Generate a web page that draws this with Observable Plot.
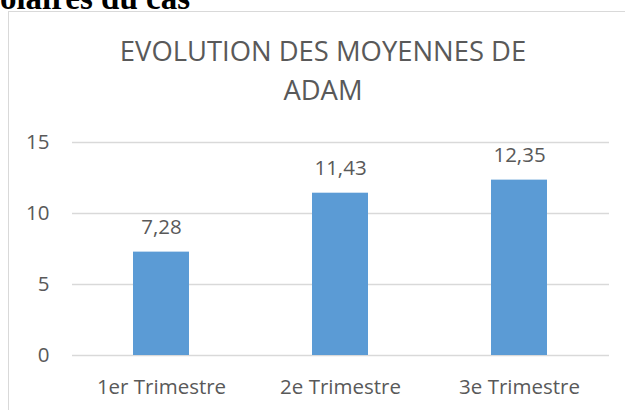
<!DOCTYPE html>
<html>
<head>
<meta charset="utf-8">
<script src="https://cdn.jsdelivr.net/npm/d3@7"></script>
<script src="https://cdn.jsdelivr.net/npm/@observablehq/plot@0.6"></script>
<style>
  html, body { margin: 0; padding: 0; background: #fff; }
  #wrap { position: relative; width: 625px; height: 410px; overflow: hidden; background: #fff; }
  #toptext { position: absolute; right: 435px; top: -18px; font: bold 33px "Liberation Serif", "Times New Roman", serif; line-height: 33px; color: #000; white-space: nowrap; }
  #frame { position: absolute; left: 8px; top: 11px; width: 700px; height: 500px; border-left: 1.5px solid #d9d9d9; border-top: 1.5px solid #d9d9d9; }
  #title { position: absolute; left: 0; width: 646px; top: 31px; text-align: center; font: 27.4px "Open Sans", sans-serif; line-height: 39px; color: #595959; }
  #chart { position: absolute; left: 0; top: 0; }
</style>
</head>
<body>
<div id="wrap">
  <div id="toptext">scolaires du cas</div>
  <div id="frame"></div>
  <div id="chart"></div>
  <div id="title">EVOLUTION DES MOYENNES DE<br>ADAM</div>
</div>
<script>
const categories = ["1er Trimestre", "2e Trimestre", "3e Trimestre"];
const moyennes = [7.28, 11.43, 12.35];
const yTicks = [0, 5, 10, 15];

const data = categories.map((c, i) => ({ cat: c, value: moyennes[i] }));
const fmt = v => v.toFixed(2).replace(".", ",");

const chart = Plot.plot({
  width: 625,
  height: 410,
  marginLeft: 72,
  marginRight: 16,
  marginTop: 142,
  marginBottom: 55,
  style: { background: "none", fontFamily: "Open Sans, sans-serif", fontSize: "20.5px", color: "#595959" },
  x: { domain: categories, paddingInner: 0.687, paddingOuter: 0.3435, label: null, tickSize: 0, tickPadding: 24 },
  y: { domain: [0, 15], ticks: yTicks, label: null, tickSize: 0, tickPadding: 23, grid: false },
  marks: [
    Plot.ruleY(yTicks, { stroke: "#d9d9d9", strokeWidth: 1.5, strokeOpacity: 1 }),
    Plot.barY(data, { x: "cat", y: "value", fill: "#5B9BD5" }),
    Plot.text(data, { x: "cat", y: "value", text: d => fmt(d.value), dy: -24.4, fill: "#595959", fontSize: 20.5 })
  ]
});
document.getElementById("chart").appendChild(chart);
</script>
</body>
</html>
